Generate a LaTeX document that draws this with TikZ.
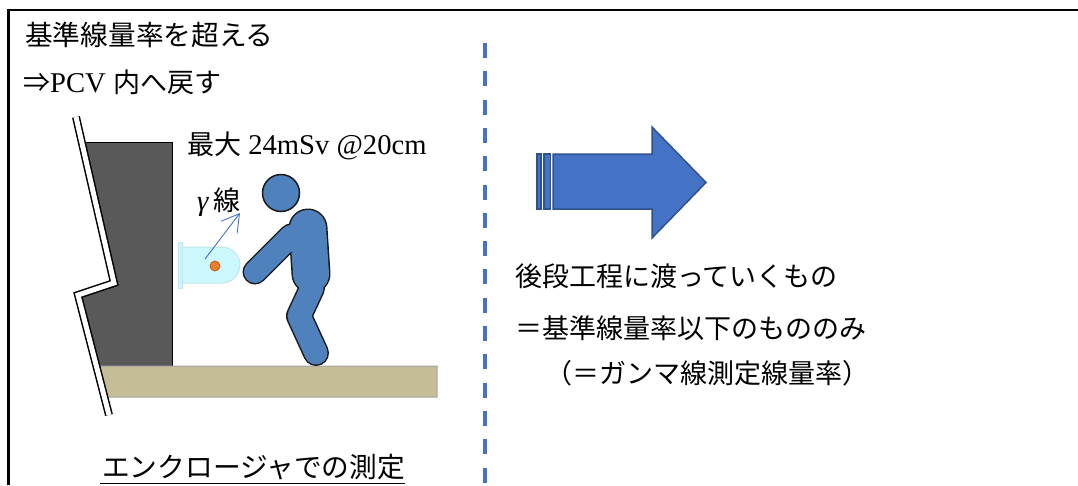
\documentclass[tikz,border=0pt]{standalone}
\usepackage{fontspec}
\setmainfont[Scale=1.06]{Liberation Serif}
\newfontfamily\cjk{Noto Sans CJK JP}
\usetikzlibrary{arrows.meta,calc}

\definecolor{accentblue}{HTML}{4472C4}
\definecolor{arrowedge}{HTML}{2F528F}
\definecolor{wallgray}{HTML}{595959}
\definecolor{floortan}{HTML}{C4BD97}
\definecolor{floorline}{HTML}{A5A5A5}
\definecolor{tubefill}{HTML}{CCF7FB}
\definecolor{tubeedge}{HTML}{BCE6F0}
\definecolor{sourceorange}{HTML}{ED7D31}
\definecolor{sourceedge}{HTML}{C55A11}
\definecolor{personblue}{HTML}{4F81BD}
\definecolor{personedge}{HTML}{1A1A1A}

% limbs of the worker, drawn as thick round strokes (#1 colour, #2 extra width)
\newcommand{\workerlimbs}[2]{%
  \draw[draw=#1,line cap=round,line join=round,line width=36pt+#2] (308,228) -- (311,274);
  \draw[draw=#1,line cap=round,line join=round,line width=22pt+#2] (291,236) -- (255,272);
  \draw[draw=#1,line cap=round,line join=round,line width=23pt+#2] (312,288) -- (299,316) -- (316,353);
}

\begin{document}
\begin{tikzpicture}[x=1pt,y=-1pt,
  txt/.style={anchor=west,inner sep=0pt,font=\fontsize{27}{32}\selectfont},
  bigtxt/.style={anchor=west,inner sep=0pt,font=\fontsize{27.7}{32}\selectfont},
  frameline/.style={line width=2.5pt,black},
  divider/.style={accentblue,line width=4pt,dash pattern=on 15pt off 13.3pt},
  bigarrow/.style={fill=accentblue,draw=arrowedge,line width=1.5pt,line join=miter},
  ray/.style={accentblue,line width=0.9pt,line join=miter,-{Straight Barb[length=17pt,width=20pt]}}]
\useasboundingbox (0,0) rectangle (1078,485);

% open frame: left and top edges
\draw[frameline] (8.5,485) -- (8.5,10) -- (1078,10);

% dashed divider
\coordinate (divtop) at (485,43);
\coordinate (divbot) at (485,485);
\draw[divider] (divtop) -- (divbot);

% headings on the left
\node[bigtxt] (exceed) at (25,35) {\cjk 基準線量率を超える};
\node[txt] (back) at (23,82) {{\cjk ⇒}PCV {\cjk 内へ戻す}};

% enclosure wall
\fill[wallgray] (82,142) -- (172,142) -- (172,366) -- (96,366) -- (78,295) -- (114,283) -- cycle;
\draw[black,line width=1pt] (82,142) -- (172,142) -- (172,366);

% floor
\filldraw[fill=floortan,draw=floorline,line width=1pt] (96,366) -- (437,366) -- (437,397) -- (104,397) -- cycle;

% break mark of the wall
\draw[black,line width=8pt,line join=miter] (76,117) -- (114,283) -- (78,295) -- (109,415);
\draw[white,line width=5pt,line join=miter] (76,117) -- (114,283) -- (78,295) -- (109,415);

% measuring tube with the source
\filldraw[fill=tubefill,draw=tubeedge,line width=1pt] (178,242) rectangle (182,288);
\filldraw[fill=tubefill,draw=tubeedge,line width=1pt] (182,247) -- (222,247) arc (-90:90:18) -- (182,283) -- cycle;
\filldraw[fill=sourceorange,draw=sourceedge,line width=0.8pt] (215,266) circle (5);

% gamma ray
\coordinate (raystart) at (205,259);
\coordinate (rayend) at (240,213);
\draw[ray] (raystart) -- (rayend);
\node[txt] (gamma) at (197,202) {\textit{γ}\,{\cjk 線}};

% dose label
\node[txt] (dose) at (187,146) {{\cjk 最大} 24mSv @20cm};

% worker
\workerlimbs{personedge}{3pt}
\workerlimbs{personblue}{0pt}
\filldraw[fill=personblue,draw=personedge,line width=1.5pt] (281,193) circle (18.5);

% block arrow with striped tail
\filldraw[bigarrow] (553,154) -- (652,154) -- (652,127) -- (706,182.5) -- (652,238) -- (652,209) -- (553,209) -- cycle;
\filldraw[bigarrow] (537,154) rectangle (541,209);
\filldraw[bigarrow] (544,154) rectangle (550.5,209);

% texts on the right
\node[txt] (onward) at (515,276) {\cjk 後段工程に渡っていくもの};
\node[txt] (below) at (515,328) {\cjk ＝基準線量率以下のもののみ};
\node[txt] (gammarate) at (545,373) {\cjk （＝ガンマ線測定線量率）};

% caption
\node[bigtxt] (caption) at (102,467) {\cjk エンクロージャでの測定};
\draw[black,line width=1.5pt] ($(caption.south west)+(-2,3.5)$) -- ($(caption.south east)+(0,3.5)$);
\end{tikzpicture}
\end{document}
